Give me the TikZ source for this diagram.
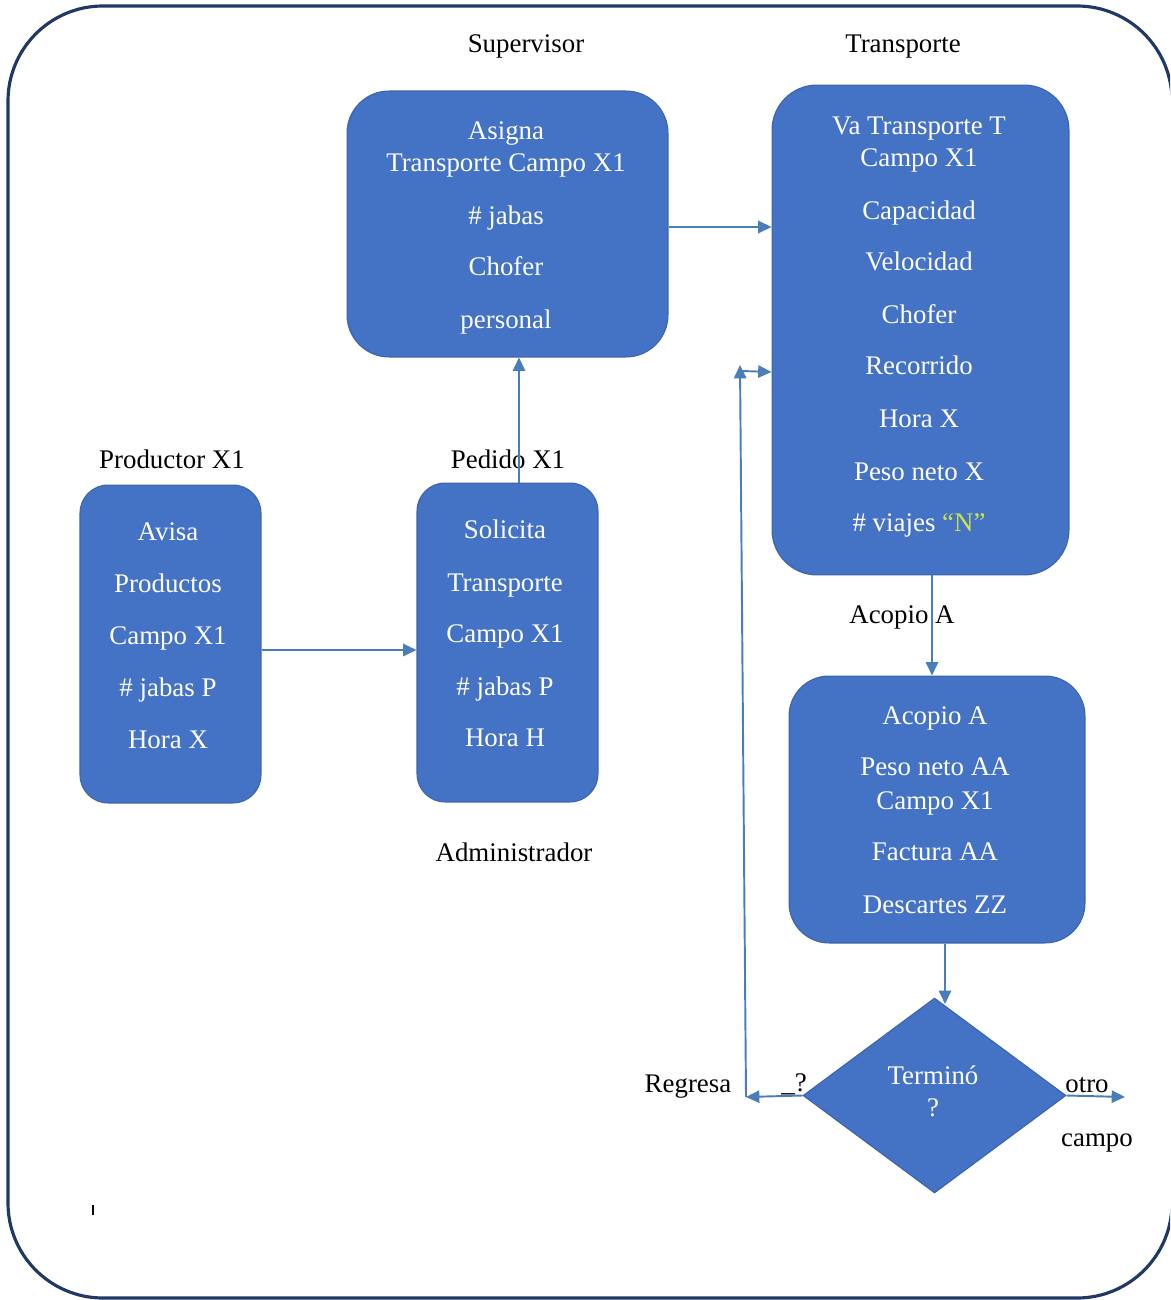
\documentclass[tikz,border=0pt]{standalone}
\usepackage{fontspec}
\setmainfont{Liberation Serif}
\usetikzlibrary{shapes.geometric,arrows.meta,calc}
\definecolor{boxblue}{HTML}{4472C4}
\definecolor{boxedge}{HTML}{3B64AD}
\definecolor{linkblue}{HTML}{4A7EBB}
\definecolor{framecol}{HTML}{1F3864}
\definecolor{quotecol}{HTML}{C9E24E}
\begin{document}
\begin{tikzpicture}[x=0.02cm,y=-0.02cm,
  box/.style={draw=boxedge, line width=0.6pt, fill=boxblue, inner sep=0pt},
  intext/.style={text=white, font=\fontsize{15.3}{18}\selectfont, text height=1.7ex, text depth=.4ex, inner sep=0pt, yshift=-1.8pt},
  outtext/.style={text=black, font=\fontsize{15.3}{18}\selectfont, text height=1.7ex, text depth=.4ex, inner sep=0pt, yshift=-1.8pt},
  arr/.style={draw=linkblue, line width=1.1pt, -{Triangle[length=7.6pt,width=7pt]}}
]
\useasboundingbox (0,0) rectangle (1170,1300);
% outer frame
\begin{scope}
  \clip (0,0) rectangle (1170,1300);
  \draw[framecol, line width=1.8pt, rounded corners=1.9cm] (8,6) rectangle (1172,1298);
\end{scope}

% boxes
\node[box, rounded corners=0.56cm, minimum width=3.62cm, minimum height=6.36cm] (prod) at (170.5,644) {};
\node[box, rounded corners=0.56cm, minimum width=3.62cm, minimum height=6.38cm] (admin) at (507.5,642.5) {};
\node[box, rounded corners=0.84cm, minimum width=6.42cm, minimum height=5.32cm] (sup) at (507.5,224) {};
\node[box, rounded corners=0.9cm, minimum width=5.94cm, minimum height=9.8cm] (trans) at (920.5,330) {};
\node[box, rounded corners=0.8cm, minimum width=5.92cm, minimum height=5.34cm] (acop) at (937,809.5) {};
\node[box, diamond, minimum width=5.26cm, minimum height=3.9cm] (dec) at (934.5,1095.5) {};

% texts inside the boxes
\foreach \t/\y [count=\i] in {Avisa/532, Productos/584, Campo X1/636, {\# jabas P}/688, Hora X/740}
  \node[intext] (prod-\i) at (168,\y) {\t};
\foreach \t/\y [count=\i] in {Solicita/530, Transporte/583, Campo X1/634, {\# jabas P}/687, Hora H/738}
  \node[intext] (admin-\i) at (505,\y) {\t};
\foreach \t/\y [count=\i] in {Asigna/131, Transporte Campo X1/163, {\# jabas}/216, Chofer/267, personal/320}
  \node[intext] (sup-\i) at (506,\y) {\t};
\foreach \t/\y [count=\i] in {Va Transporte T/126, Campo X1/158, Capacidad/211, Velocidad/262, Chofer/315, Recorrido/366, Hora X/419, Peso neto X/472, {\# viajes \textcolor{quotecol}{“N”}}/523}
  \node[intext] (trans-\i) at (919,\y) {\t};
\foreach \t/\y [count=\i] in {Acopio A/716, Peso neto AA/767, Campo X1/801, Factura AA/852, Descartes ZZ/905}
  \node[intext] (acop-\i) at (935,\y) {\t};
\node[intext] (dec-1) at (933,1076) {Terminó};
\node[intext] (dec-2) at (933,1108) {?};

% labels
\node[outtext] (lsup) at (526,44) {Supervisor};
\node[outtext] (ltrans) at (903,44) {Transporte};
\node[outtext] (lprod) at (172,460) {Productor X1};
\node[outtext] (lped) at (508,460) {Pedido X1};
\node[outtext] (ladm) at (514,853) {Administrador};
\node[outtext] (lacop) at (902,615) {Acopio A};
\node[outtext] (lreg) at (688,1084) {Regresa};
\node[outtext] (lq) at (794,1083) {\_?};
\node[outtext] (lotro) at (1087,1084) {otro};
\node[outtext] (lcampo) at (1097,1138) {campo};
\node[inner sep=0pt] (mark) at (93,1210) {\rule{0.7pt}{6pt}};

% connectors
\coordinate (y650) at (0,650);
\coordinate (x519) at (519,0);
\coordinate (y227) at (0,227);
\coordinate (x932) at (932,0);
\coordinate (x945) at (945,0);
\coordinate (y372) at (0,372);
\coordinate (decin) at (945,1004);
\coordinate (rb) at (746,1097);
\coordinate (rt) at (740,365);
\coordinate (rt2) at (742,371);
\coordinate (out) at (1125,1097);

\draw[arr] (prod.east |- y650) -- (admin.west |- y650);
\draw[arr] (admin.north -| x519) -- (sup.south -| x519);
\draw[arr] (sup.east |- y227) -- (trans.west |- y227);
\draw[arr] (trans.south -| x932) -- (acop.north -| x932);
\draw[arr] (acop.south -| x945) -- (decin);
\draw[arr] (dec.west) -- (rb);
\draw[arr] (rb) -- (rt);
\draw[arr] (rt2) -- (trans.west |- y372);
\draw[arr] (dec.east) -- (out);
\end{tikzpicture}
\end{document}
